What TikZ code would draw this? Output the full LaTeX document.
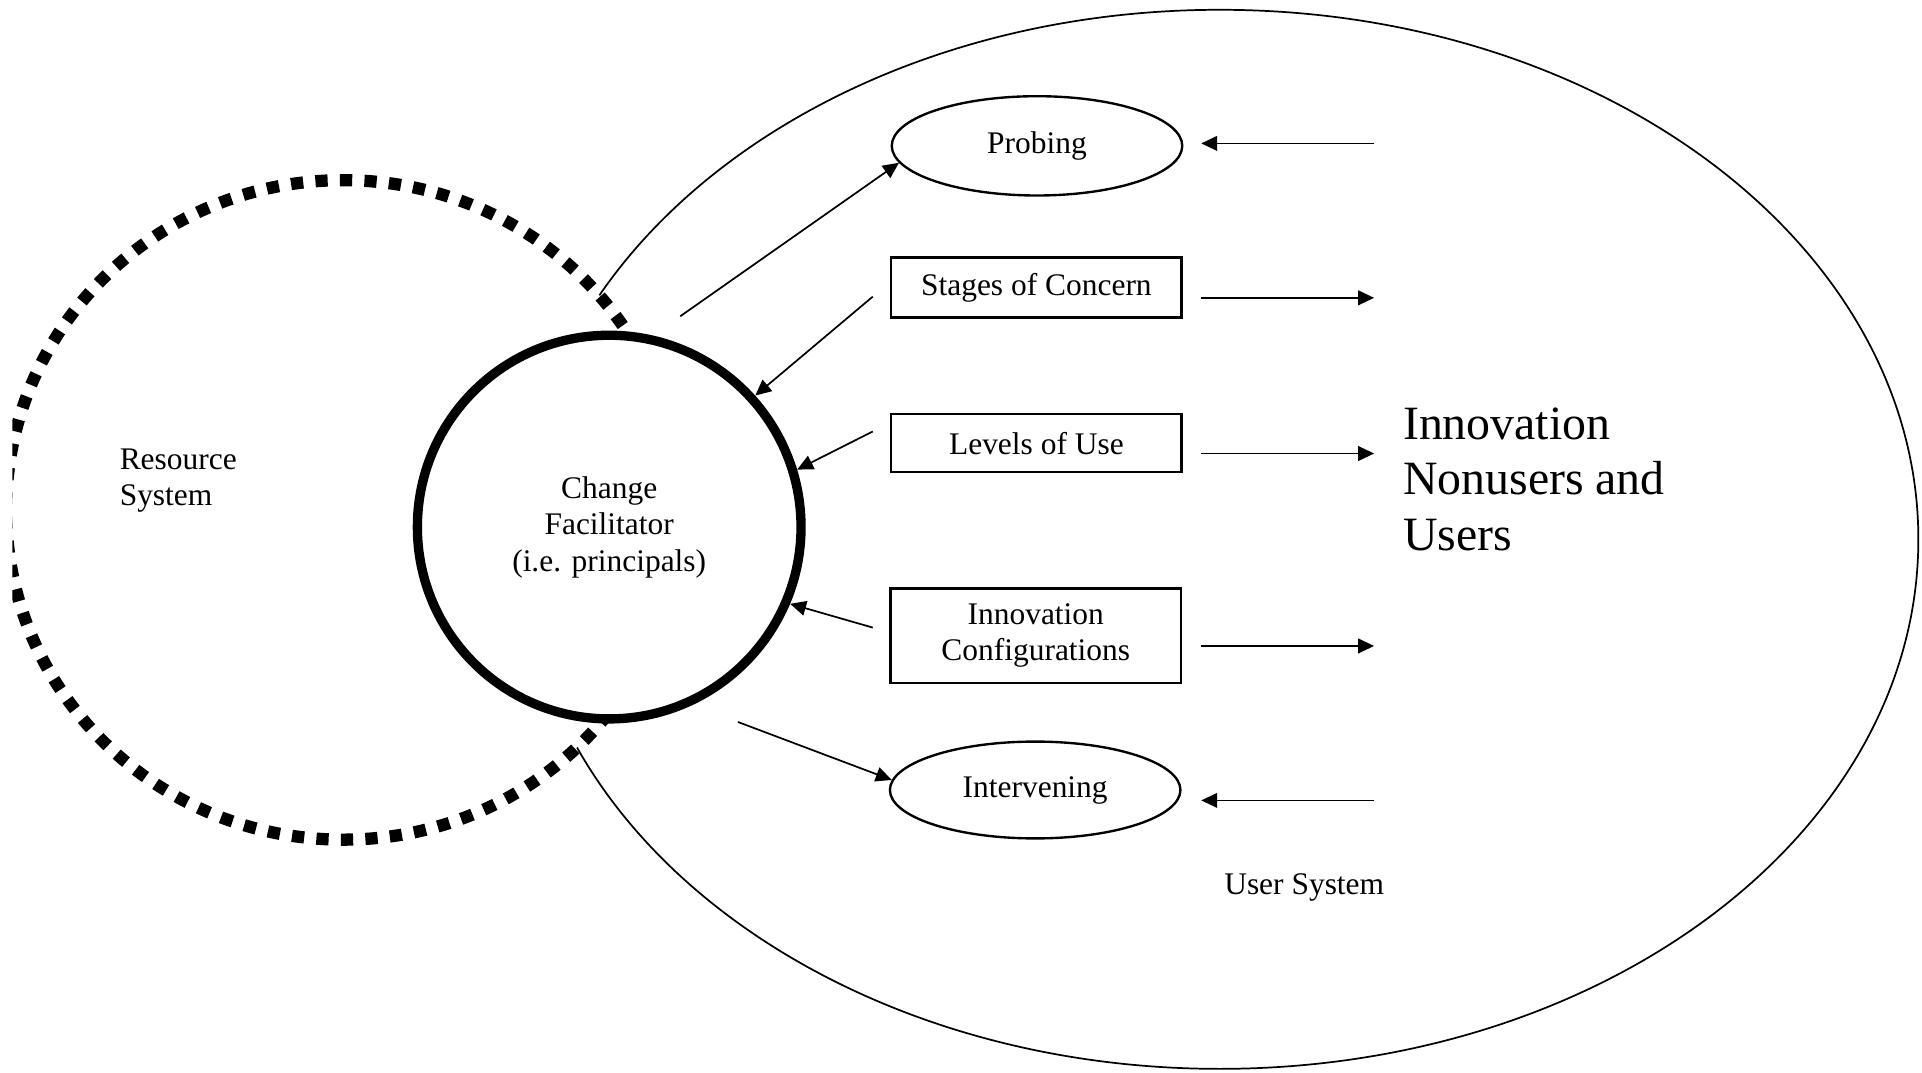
\documentclass[tikz,border=0pt]{standalone}
\usepackage{fontspec}
\setmainfont{Liberation Serif}
\usetikzlibrary{shapes.geometric,arrows.meta}
\newcommand\xl{9.80}
\newcommand\xr{11.21}

\begin{document}
\begin{tikzpicture}[txt/.style={font=\fontsize{7.3}{8.5}\selectfont},
    box/.style={rectangle, draw, line width=0.55pt, minimum width=2.37cm, inner sep=0pt, align=center, txt},
    oval/.style={ellipse, draw, line width=0.55pt, minimum width=2.37cm, inner sep=0pt, txt},
    conn/.style={-{Triangle[length=0.13cm,width=0.12cm]}, line width=0.4pt}]
    \useasboundingbox (0,0) rectangle (15.68,8.75);

    %User System and Resource System
    \draw [line width=0.4pt] (9.95,4.35) ellipse [x radius=5.70, y radius=4.32];
    \begin{scope}
        \clip (0.1,0) rectangle (15.68,8.75);
        \draw [fill=white, line width=0.1cm, dash pattern=on 0.1cm off 0.1cm] (2.80,4.59) ellipse [x radius=2.75, y radius=2.69];
    \end{scope}

    \node at (4.97, 4.45) [circle, draw, fill=white, line width=0.076cm, minimum size=3.13cm, inner sep=0pt, align=center, txt] (cf) {Change\\Facilitator\\(i.e. principals)};

    \node at (0.97, 4.83) [anchor=west, align=left, inner sep=0pt, txt] (rs) {Resource\\System};
    \node at (11.44, 4.84) [anchor=west, align=left, inner sep=0pt, font=\fontsize{11.1}{12.8}\selectfont] (nu) {Innovation\\Nonusers and\\Users};
    \node at (10.64, 1.51) [txt] (us) {User System};

    %tools of the facilitator
    \node at (8.46, 7.56) [oval, minimum height=0.81cm] (pr) {Probing};
    \node at (8.455, 6.405) [box, minimum height=0.49cm] (sc) {Stages of Concern};
    \node at (8.455, 5.135) [box, minimum height=0.47cm] (lu) {Levels of Use};
    \node at (8.45, 3.565) [box, minimum height=0.77cm] (ic) {Innovation\\Configurations};
    \node at (8.445, 2.305) [oval, minimum height=0.79cm] (iv) {Intervening};

    %arrows to and from the circle
    \coordinate (c1) at (5.55, 6.17);
    \coordinate (c2) at (7.12, 6.33);
    \coordinate (c3) at (7.12, 5.23);
    \coordinate (c4) at (7.12, 3.63);
    \coordinate (c5) at (6.02, 2.86);
    \draw [conn] (c1) -- (pr.187);
    \draw [conn] (c2) -- (cf.42);
    \draw [conn] (c3) -- (cf.17);
    \draw [conn] (c4) -- (cf.337);
    \draw [conn] (c5) -- (iv.176);

    %arrows on the user side
    \coordinate (pa) at (\xr, 7.58);
    \coordinate (pb) at (\xl, 7.58);
    \coordinate (sa) at (\xl, 6.32);
    \coordinate (sb) at (\xr, 6.32);
    \coordinate (la) at (\xl, 5.05);
    \coordinate (lb) at (\xr, 5.05);
    \coordinate (ia) at (\xl, 3.48);
    \coordinate (ib) at (\xr, 3.48);
    \coordinate (va) at (\xr, 2.22);
    \coordinate (vb) at (\xl, 2.22);
    \draw [conn] (pa) -- (pb);
    \draw [conn] (sa) -- (sb);
    \draw [conn] (la) -- (lb);
    \draw [conn] (ia) -- (ib);
    \draw [conn] (va) -- (vb);
\end{tikzpicture}
\end{document}
